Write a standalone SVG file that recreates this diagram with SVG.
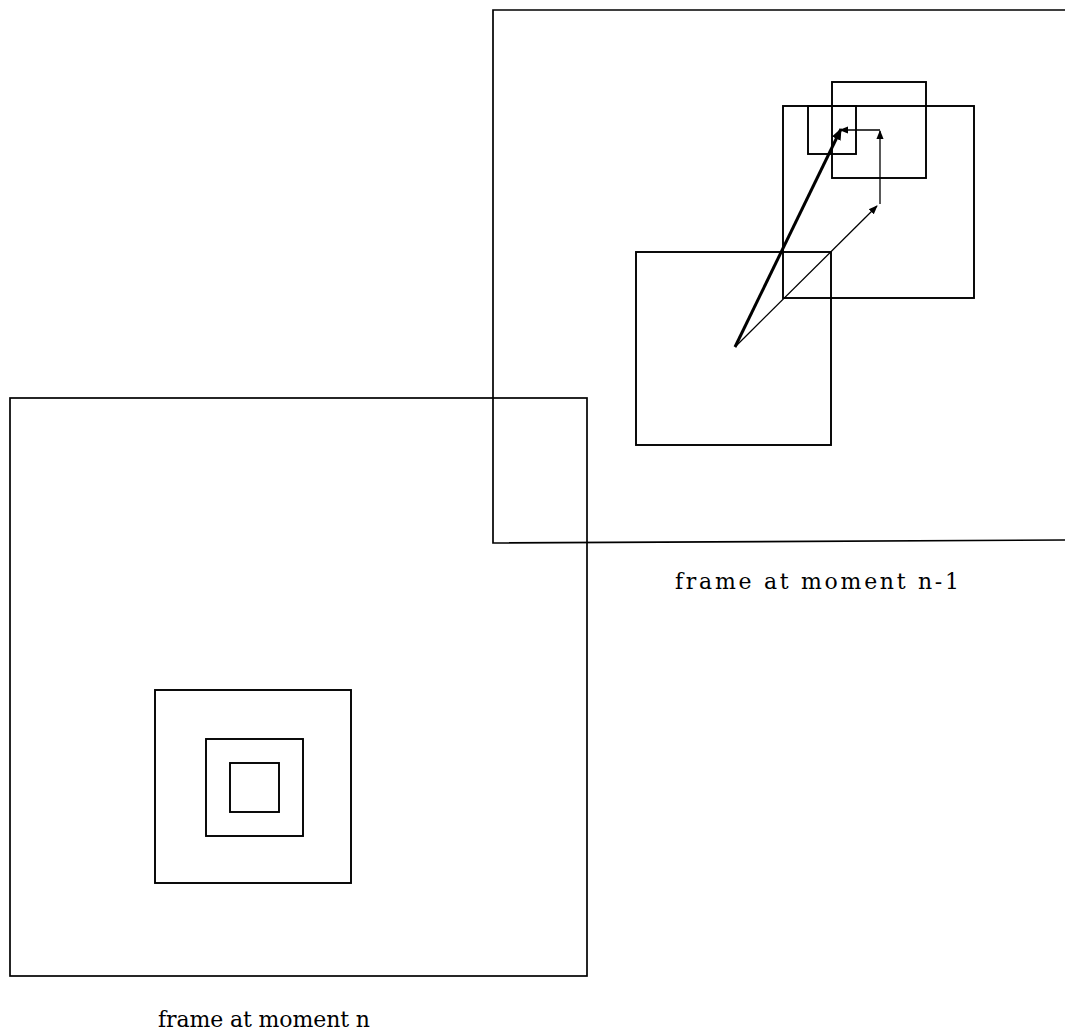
<svg xmlns="http://www.w3.org/2000/svg" width="1065" height="1036" viewBox="0 0 1065 1036">
<style>
.frame{fill:none;stroke:#000;stroke-width:1.7}
.box{fill:none;stroke:#000;stroke-width:1.9}
.thin{fill:none;stroke:#000;stroke-width:1.3}
.thick{fill:none;stroke:#000;stroke-width:3}
.lbl{font-family:"DejaVu Serif","Liberation Serif",serif;font-size:22px;fill:#000}
</style>
<defs>
<marker id="ah" viewBox="0 0 10 10" refX="9" refY="5" markerWidth="9" markerHeight="9" markerUnits="userSpaceOnUse" orient="auto">
<path d="M0,1 L10,5 L0,9 Z" fill="#000"/>
</marker>
<marker id="ahb" viewBox="0 0 10 10" refX="9" refY="5" markerWidth="12" markerHeight="12" markerUnits="userSpaceOnUse" orient="auto">
<path d="M0,1 L10,5 L0,9 Z" fill="#000"/>
</marker>
</defs>
<rect width="1065" height="1036" fill="#fff"/>
<g id="frame-n-1">
<path class="frame" d="M1065,10 L493,10 L493,543 L1065,540"/>
<text class="lbl" x="675" y="589" textLength="284" lengthAdjust="spacing">frame at moment n-1</text>
</g>
<g id="frame-n">
<rect class="frame" x="10" y="398" width="577" height="578"/>
<text class="lbl" x="158" y="1027" textLength="212" lengthAdjust="spacing">frame at moment n</text>
</g>
<g id="blocks-n">
<rect class="box" x="155" y="690" width="196" height="193"/>
<rect class="box" x="206" y="739" width="97" height="97"/>
<rect class="box" x="230" y="763" width="49" height="49"/>
</g>
<g id="blocks-n-1">
<rect class="box" x="636" y="252" width="195" height="193"/>
<rect class="box" x="783" y="106" width="191" height="192"/>
<rect class="box" x="832" y="82" width="94" height="96"/>
<rect class="box" x="808" y="106" width="48" height="48"/>
</g>
<g id="connectors">
<line class="thick" x1="735" y1="347" x2="841" y2="129" marker-end="url(#ahb)"/>
<line class="thin" x1="735" y1="347" x2="877" y2="206" marker-end="url(#ah)"/>
<line class="thin" x1="880" y1="204" x2="880" y2="131" marker-end="url(#ah)"/>
<line class="thin" x1="880" y1="130" x2="840" y2="130" marker-end="url(#ah)"/>
</g>
</svg>
